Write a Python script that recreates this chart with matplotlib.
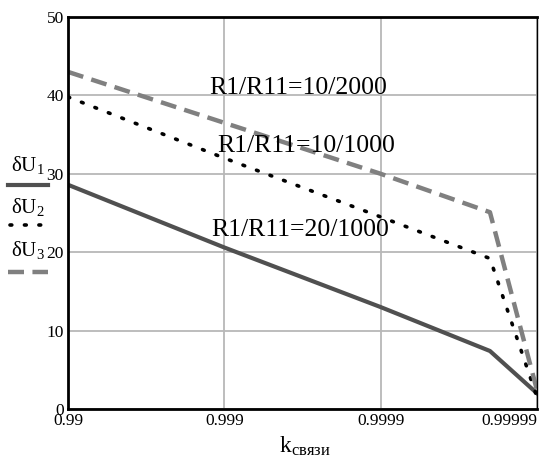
import matplotlib.pyplot as plt
import numpy as np
from matplotlib.lines import Line2D

plt.rcParams['font.family'] = ['Liberation Serif', 'DejaVu Serif']
plt.rcParams['mathtext.default'] = 'regular'

# coupling coefficient values and voltage deviation, %
k = np.array([0.99, 0.999, 0.9999, 0.99998, 0.99999])
dU1 = [28.6, 20.6, 13.0, 7.4, 2.0]     # R1/R11=20/1000
dU2 = [39.8, 32.0, 24.5, 19.2, 1.5]    # R1/R11=10/1000
dU3 = [43.0, 36.5, 30.0, 25.1, 2.4]    # R1/R11=10/2000

xticks = [0.99, 0.999, 0.9999, 0.99999]
xtick_labels = ['0.99', '0.999', '0.9999', '0.99999']
yticks = [0, 10, 20, 30, 40, 50]


def fwd(x):
    return -np.log10(np.clip(1 - np.asarray(x, dtype=float), 1e-12, None))


def inv(y):
    return 1 - 10 ** (-np.asarray(y, dtype=float))


dotted = (0, (0.5, 3.5))
dashed = (0, (3.6, 1.9))

fig = plt.figure(figsize=(5.39, 4.66), dpi=100)
ax = fig.add_axes([68 / 539, 1 - 409 / 466, (537 - 68) / 539, (409 - 17) / 466])
ax.set_xscale('function', functions=(fwd, inv))

ax.plot(k, dU1, color='#505050', lw=3.0)
ax.plot(k, dU2, color='black', lw=2.6, linestyle=dotted, dash_capstyle='round')
ax.plot(k, dU3, color='#808080', lw=3.2, linestyle=dashed)

ax.set_xlim(0.99, 0.99999)
ax.set_ylim(0, 50)
ax.set_xticks(xticks)
ax.set_xticklabels(xtick_labels)
ax.set_yticks(yticks)
ax.minorticks_off()
ax.tick_params(length=0, labelsize=12.5, pad=3)
ax.get_xticklabels()[-1].set_ha('right')
ax.get_xticklabels()[-1].set_x(0)
ax.grid(True, color='#b8b8b8', lw=1.3)
ax.set_axisbelow(True)
for s in ['left', 'bottom', 'top']:
    ax.spines[s].set_linewidth(2)
ax.spines['right'].set_linewidth(1)

fs = 18.5
ax.text(0.999662, 40.9, 'R1/R11=10/2000', fontsize=fs, ha='center', va='center')
ax.text(0.999699, 33.5, 'R1/R11=10/1000', fontsize=fs, ha='center', va='center')
ax.text(0.999672, 22.8, 'R1/R11=20/1000', fontsize=fs, ha='center', va='center')

# legend in the left margin
def fy(py):
    return 1 - py / 466

fig.text(28 / 539, fy(165), r'δU$_1$', fontsize=15, ha='center', va='center')
fig.add_artist(Line2D([8 / 539, 48 / 539], [fy(185), fy(185)], color='#505050', lw=3.0))
fig.text(28 / 539, fy(207), r'δU$_2$', fontsize=15, ha='center', va='center')
fig.add_artist(Line2D([10 / 539, 46 / 539], [fy(225), fy(225)], color='black', lw=2.6,
                      linestyle=dotted, dash_capstyle='round'))
fig.text(28 / 539, fy(250), r'δU$_3$', fontsize=15, ha='center', va='center')
fig.add_artist(Line2D([8 / 539, 48 / 539], [fy(272), fy(272)], color='#808080', lw=3.2,
                      linestyle=dashed))

fig.text(305 / 539, fy(446), r'k$_{связи}$', fontsize=17, ha='center', va='center')

plt.savefig('out.png', dpi=100)
